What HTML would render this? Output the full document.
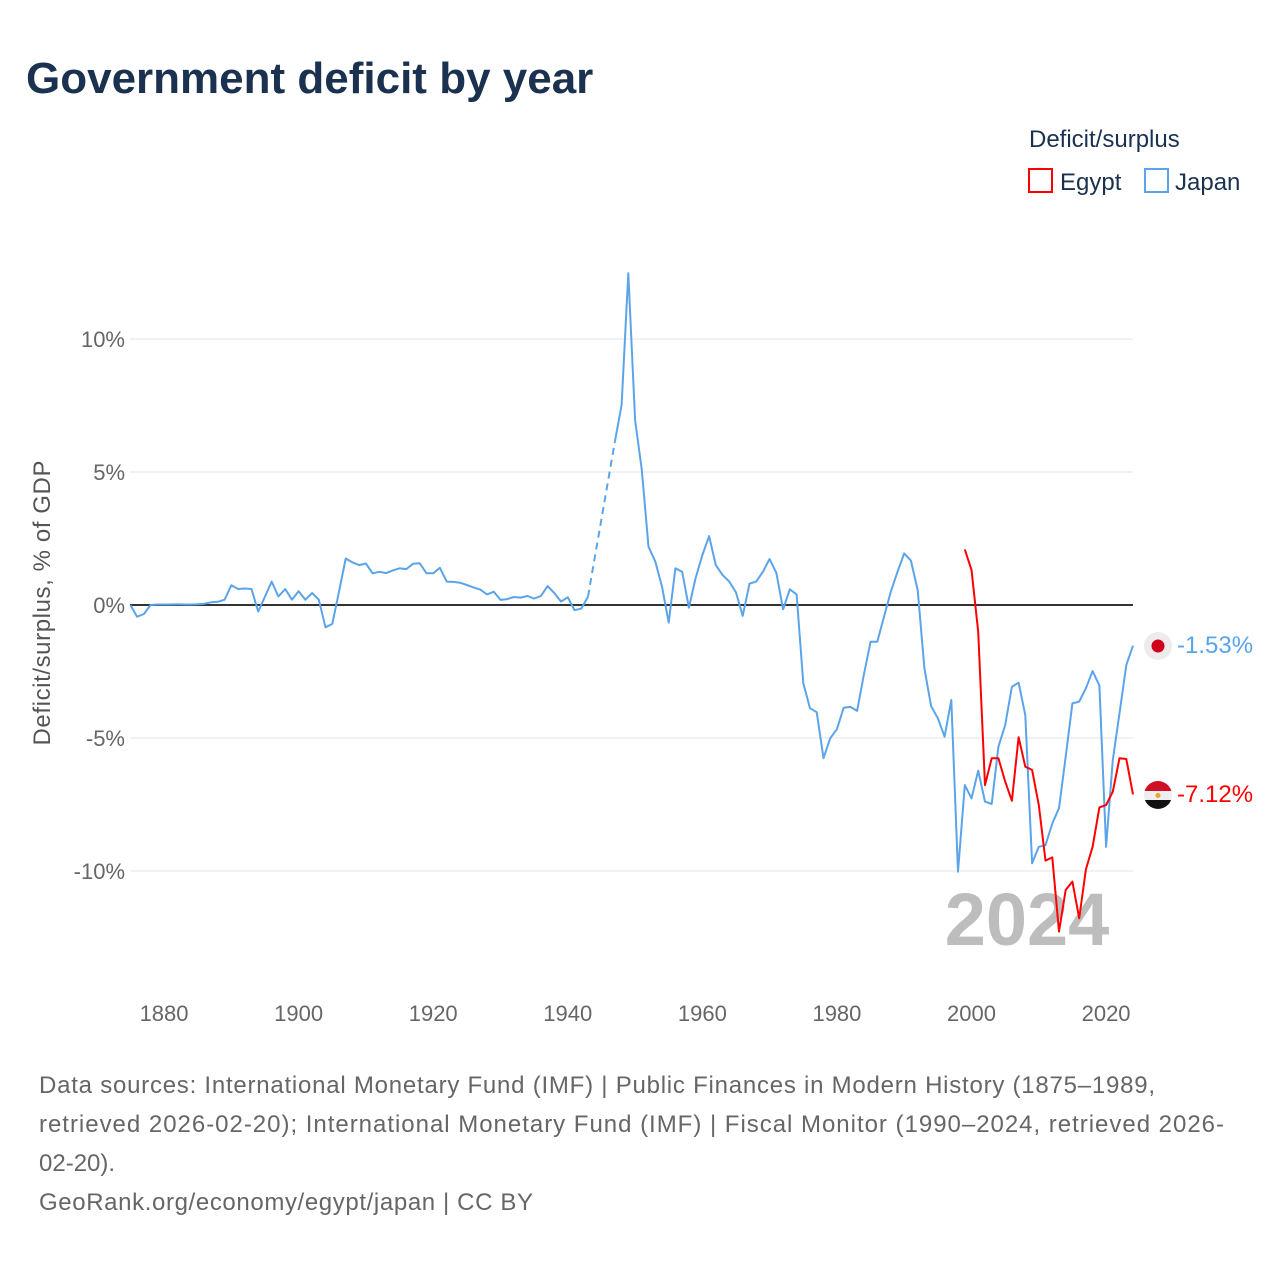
<!DOCTYPE html>
<html><head><meta charset="utf-8"><style>
html,body{margin:0;padding:0;background:#fff}
svg text{font-family:"Liberation Sans",sans-serif}
</style></head><body>
<svg id="chart" width="1280" height="1280" viewBox="0 0 1280 1280" xmlns="http://www.w3.org/2000/svg">
<text x="26" y="93" font-size="44" font-weight="bold" fill="#1b3150">Government deficit by year</text>
<g>
<text x="1029" y="147" font-size="24" fill="#1b3150">Deficit/surplus</text>
<g><rect x="1029" y="169" width="23" height="23" fill="none" stroke="#ff0000" stroke-width="2"/><text x="1060" y="190" font-size="24" fill="#1b3150">Egypt</text></g>
<g><rect x="1145" y="169" width="23" height="23" fill="none" stroke="#5ba4ea" stroke-width="2"/><text x="1175" y="190" font-size="24" fill="#1b3150">Japan</text></g>
</g>
<g id="grid"></g><g id="yticks"></g><g id="xticks"></g>
<text x="0" y="0" transform="translate(50,603) rotate(-90)" text-anchor="middle" font-size="24" fill="#555" textLength="285" lengthAdjust="spacing">Deficit/surplus, % of GDP</text>
<text x="1027" y="945" text-anchor="middle" font-size="74" font-weight="bold" fill="#bdbdbd">2024</text>
<g id="series"></g>
<g><circle cx="1158" cy="646" r="14" fill="#ececec"/><circle cx="1158" cy="646" r="6.5" fill="#d0021b"/></g>
<text x="1177" y="653" font-size="24" fill="#5ba4ea">-1.53%</text>
<g>
<clipPath id="ecl"><circle cx="1158" cy="795" r="14"/></clipPath>
<g clip-path="url(#ecl)"><rect x="1144" y="781" width="28" height="10" fill="#ce1126"/><rect x="1144" y="791" width="28" height="9" fill="#eee"/><rect x="1144" y="800" width="28" height="10" fill="#111"/><circle cx="1158" cy="795.5" r="2.5" fill="#f0a030"/></g></g>
<text x="1177" y="802" font-size="24" fill="#ff0000">-7.12%</text>
<g font-size="24" fill="#666">
<text x="39" y="1093" textLength="1116" lengthAdjust="spacing">Data sources: International Monetary Fund (IMF) | Public Finances in Modern History (1875–1989,</text>
<text x="39" y="1132" textLength="1185" lengthAdjust="spacing">retrieved 2026-02-20); International Monetary Fund (IMF) | Fiscal Monitor (1990–2024, retrieved 2026-</text>
<text x="39" y="1171">02-20).</text>
<text x="39" y="1210" textLength="494" lengthAdjust="spacing">GeoRank.org/economy/egypt/japan | CC BY</text>
</g>
</svg>
<script>
const yTickValues=[10,5,0,-5,-10];
const yTickLabels=["10%","5%","0%","-5%","-10%"];
const xTickValues=[1880,1900,1920,1940,1960,1980,2000,2020];
const japanYears=[];
for(let yr=1875;yr<=1943;yr++)japanYears.push(yr);
for(let yr=1947;yr<=2024;yr++)japanYears.push(yr);
const japanValues=[0,-0.44,-0.34,0,0.02,0.02,0.02,0.03,0.02,0.02,
0.03,0.05,0.1,0.12,0.2,
0.74,0.6,0.62,0.6,-0.25,0.32,0.88,0.32,0.6,0.2,
0.52,0.2,0.45,0.2,-0.84,-0.71,0.5,1.75,
1.6,1.5,1.56,1.19,1.25,1.2,1.3,1.38,1.35,1.55,1.57,1.19,1.19,1.4,0.88,0.87,0.84,0.75,0.66,0.58,0.4,0.5,0.19,0.22,0.3,0.28,0.34,0.24,0.34,0.71,0.45,0.13,0.29,-0.19,-0.14,0.31,
6.14,7.52,12.47,6.95,5.08,2.19,1.63,0.69,-0.66,1.38,1.25,-0.1,1.01,1.88,2.59,1.5,1.13,0.88,0.47,-0.41,0.8,0.88,1.25,1.73,1.2,-0.16,0.59,0.4,-2.94,-3.88,-4.03,-5.76,-5.01,-4.67,-3.86,-3.83,-3.98,-2.63,-1.38,-1.38,-0.44,0.5,1.25,1.94,1.67,0.56,-2.38,-3.8,-4.26,-4.95,-3.57,-10.03,-6.77,-7.27,-6.23,-7.39,-7.48,-5.33,-4.51,-3.07,-2.92,-4.14,-9.71,-9.09,-9.03,-8.21,-7.64,-5.7,-3.7,-3.63,-3.13,-2.48,-3.03,-9.09,-5.83,-4.07,-2.26,-1.53];
const egyptYears=[1999,2000,2001,2002,2003,2004,2005,2006,2007,2008,2009,2010,2011,2012,2013,2014,2015,2016,2017,2018,2019,2020,2021,2022,2023,2024];
const egyptValues=[2.09,1.32,-1.0,-6.77,-5.76,-5.76,-6.64,-7.36,-4.97,-6.08,-6.2,-7.52,-9.61,-9.49,-12.28,-10.71,-10.4,-11.78,-9.94,-9.09,-7.61,-7.52,-7.02,-5.76,-5.79,-7.12];

const NS="http://www.w3.org/2000/svg";
const x=yr=>130.4+(yr-1875)*(1133-130.4)/149;
const y=v=>605-v*26.6;
function mk(tag,attrs,parent,txt){const e=document.createElementNS(NS,tag);for(const k in attrs)e.setAttribute(k,attrs[k]);if(txt!==undefined)e.textContent=txt;parent.appendChild(e);return e;}
const grid=document.getElementById('grid'),yt=document.getElementById('yticks'),xt=document.getElementById('xticks'),ser=document.getElementById('series');
yTickValues.forEach((v,i)=>{
  const l=mk('line',{x1:130,x2:1133,y1:y(v),y2:y(v),stroke:v===0?'#333':'#e6e6e6','stroke-width':v===0?2:1},grid);
  
  
  const t=mk('text',{x:125,y:y(v)+8,'text-anchor':'end','font-size':22,fill:'#666'},yt,yTickLabels[i]);
  
  
});
xTickValues.forEach(v=>{
  const t=mk('text',{x:x(v),y:1021,'text-anchor':'middle','font-size':22,fill:'#666'},xt,String(v));
  
  
});
function drawSeries(years,vals,color,name){
  let seg=[];const segs=[];
  const n=Math.min(years.length,vals.length);
  for(let i=0;i<n;i++){
    if(i>0&&years[i]-years[i-1]>1){
      segs.push(seg);
      const d=mk('line',{x1:x(years[i-1]),y1:y(vals[i-1]),x2:x(years[i]),y2:y(vals[i]),stroke:color,'stroke-width':2,'stroke-dasharray':'7,5'},ser);
      
      
      seg=[];
    }
    seg.push(x(years[i]).toFixed(1)+','+y(vals[i]).toFixed(1));
  }
  segs.push(seg);
  segs.forEach(s=>{
    const p=mk('polyline',{points:s.join(' '),fill:'none',stroke:color,'stroke-width':2,'stroke-linejoin':'round'},ser);
    
    
  });
}
drawSeries(japanYears,japanValues,'#5ba4ea','japan');
drawSeries(egyptYears,egyptValues,'#ff0000','egypt');
</script>
</body></html>
